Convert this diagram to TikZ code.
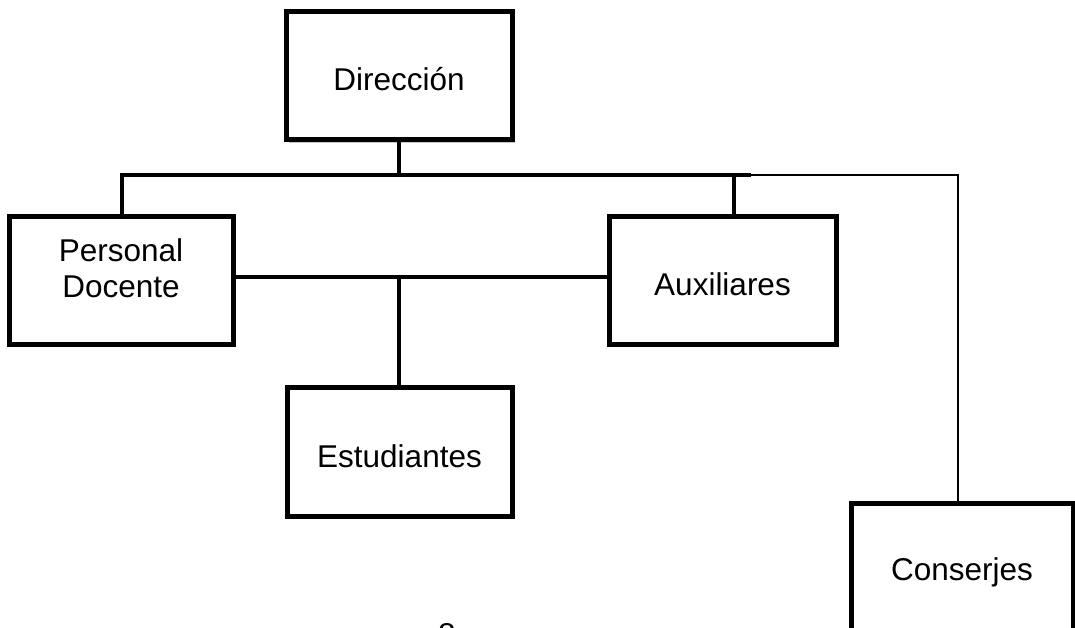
\documentclass[tikz,border=0pt]{standalone}
\usepackage{fontspec}
\setmainfont{Liberation Sans}
\usetikzlibrary{shadows}
\begin{document}
\begin{tikzpicture}[x=1pt,y=-1pt,
  box/.style={draw=black,line width=5pt,fill=white,inner sep=0pt,
    drop shadow={shadow xshift=3pt,shadow yshift=-3pt,fill=black!22,opacity=1}},
  lbl/.style={inner sep=0pt,align=center,font=\fontsize{31.5}{36}\selectfont},
  conn/.style={line width=3.6pt},
  thin/.style={line width=2.8pt}]
\useasboundingbox (0,0) rectangle (1075,628);
\clip (0,0) rectangle (1075,628);
% connectors
\coordinate (busL) at (122,175);
\coordinate (busM) at (751,175);
\coordinate (busR) at (958,175);
\coordinate (auxc) at (734,175);
\coordinate (mid) at (399,277);
\node[box,minimum width=226pt,minimum height=128pt] (dir) at (399,76) {};
\node[box,minimum width=224pt,minimum height=127pt] (pd) at (121,280.5) {};
\node[box,minimum width=227pt,minimum height=127pt] (aux) at (722.5,280.5) {};
\node[box,minimum width=225pt,minimum height=129pt] (est) at (399.5,451.5) {};
\node[box,minimum width=222pt,minimum height=128pt] (cons) at (962,567) {};
\draw[conn] (dir.south -| mid) -- (busL -| mid);
\draw[conn] (busL |- pd.north) -- (busL) -- (busM);
\draw[thin] (busM) -- (busR) -- (cons.north -| busR);
\draw[conn] (aux.north -| auxc) -- (auxc);
\draw[conn] (pd.east |- mid) -- (aux.west |- mid);
\draw[conn] (mid) -- (est.north -| mid);
% labels
\node[lbl] (tdir) at (399,79) {Dirección};
\node[lbl] (tpd) at (121,268) {Personal\\Docente};
\node[lbl] (taux) at (722.5,284) {Auxiliares};
\node[lbl] (test) at (399.5,456) {Estudiantes};
\node[lbl] (tcons) at (962,572) {Conserjes};
\node[lbl,anchor=north] (pg) at (447,623) {8};
\end{tikzpicture}
\end{document}
